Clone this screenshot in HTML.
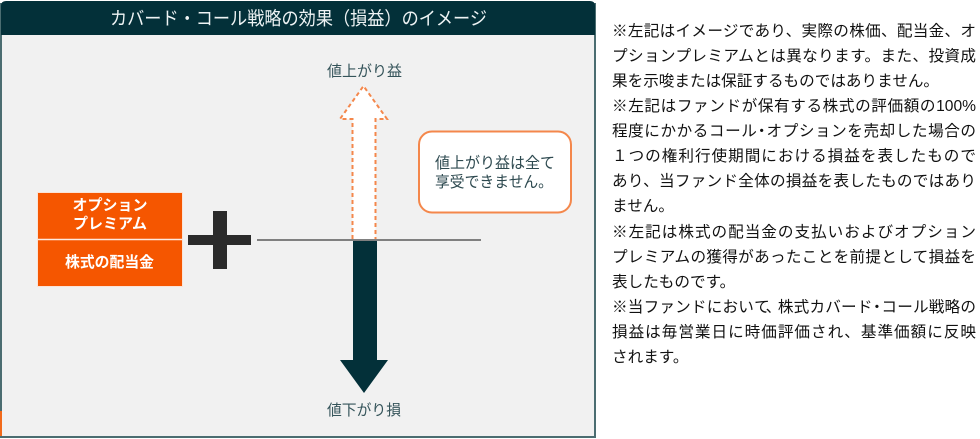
<!DOCTYPE html>
<html>
<head>
<meta charset="utf-8">
<style>
  html, body { margin:0; padding:0; background:#ffffff; }
  body { width:980px; height:439px; position:relative; overflow:hidden;
         font-family:"Liberation Sans","Noto Sans CJK JP",sans-serif; }
  #panel { position:absolute; left:0; top:0; }
  #notes { position:absolute; left:612px; top:18.5px; font-size:15.6px; line-height:25.14px;
           color:#111; width:364px;
           font-family:"Liberation Sans","Noto Sans CJK JP",sans-serif; }
  #notes div { white-space:nowrap; height:25.14px; }
  #notes div.j { text-align:justify; text-align-last:justify; text-justify:inter-character; }
  .n { letter-spacing:-3.5px; }
</style>
</head>
<body>
<svg id="panel" width="600" height="439" viewBox="0 0 600 439" xmlns="http://www.w3.org/2000/svg">
  <!-- panel body -->
  <rect x="1" y="4" width="594" height="433" fill="#f1f1f1" stroke="#4b6d71" stroke-width="2"/>
  <!-- header -->
  <path d="M1,35 L1,6 Q1,1 6,1 L590,1 Q595,1 595,6 L595,35 Z" fill="#033039"/>
  <text x="110" y="25" font-size="18.5" fill="#eef3f4" textLength="377" lengthAdjust="spacingAndGlyphs"
        font-family="Liberation Sans, Noto Sans CJK JP, sans-serif">カバード・コール戦略の効果（損益）のイメージ</text>
  <!-- small orange artifact left bottom -->
  <rect x="0" y="411" width="2" height="25" fill="#f26a1b"/>

  <!-- up label -->
  <text x="327" y="76" font-size="15" fill="#35545a" textLength="75" lengthAdjust="spacingAndGlyphs"
        font-family="Liberation Sans, Noto Sans CJK JP, sans-serif">値上がり益</text>

  <!-- up dashed arrow -->
  <path d="M352.5,239 L352.5,119 L340,119 L363.5,86 L387,119 L375.5,119 L375.5,239"
        fill="#ffffff" stroke="#f4874b" stroke-width="2" stroke-dasharray="4,3"/>

  <!-- horizontal axis -->
  <line x1="257" y1="240" x2="481" y2="240" stroke="#5a5a5a" stroke-width="1.6"/>

  <!-- down arrow -->
  <path d="M353,241 L377,241 L377,360 L388,360 L364,393 L340,360 L353,360 Z" fill="#033039"/>

  <!-- down label -->
  <text x="327" y="415" font-size="15" fill="#35545a" textLength="74" lengthAdjust="spacingAndGlyphs"
        font-family="Liberation Sans, Noto Sans CJK JP, sans-serif">値下がり損</text>

  <!-- callout -->
  <rect x="419" y="131.5" width="152" height="81" rx="13" ry="13" fill="#ffffff" stroke="#f4874b" stroke-width="2"/>
  <text x="435" y="168" font-size="15.5" fill="#2e4a50" textLength="120" lengthAdjust="spacingAndGlyphs"
        font-family="Liberation Sans, Noto Sans CJK JP, sans-serif">値上がり益は全て</text>
  <text x="435" y="187" font-size="15.5" fill="#2e4a50" textLength="118" lengthAdjust="spacingAndGlyphs"
        font-family="Liberation Sans, Noto Sans CJK JP, sans-serif">享受できません。</text>

  <!-- orange box -->
  <rect x="37.5" y="192.5" width="145" height="94" fill="#f55600" stroke="#fbe3d6" stroke-width="1"/>
  <line x1="38" y1="239.5" x2="182" y2="239.5" stroke="#fde9de" stroke-width="1.6"/>
  <text x="110" y="210" text-anchor="middle" font-size="15" font-weight="bold" fill="#ffffff"
        font-family="Liberation Sans, Noto Sans CJK JP, sans-serif">オプション</text>
  <text x="110" y="228.5" text-anchor="middle" font-size="15" font-weight="bold" fill="#ffffff"
        font-family="Liberation Sans, Noto Sans CJK JP, sans-serif">プレミアム</text>
  <text x="65" y="267" font-size="15" font-weight="bold" fill="#ffffff" textLength="89" lengthAdjust="spacingAndGlyphs"
        font-family="Liberation Sans, Noto Sans CJK JP, sans-serif">株式の配当金</text>

  <!-- plus sign -->
  <rect x="188" y="235" width="63" height="10" fill="#2b2b2b"/>
  <rect x="213" y="211" width="14" height="58" fill="#2b2b2b"/>
</svg>

<div id="notes">
<div class="j">※左記はイメージであり、実際の株価、配当金、オ</div>
<div class="j">プションプレミアムとは異なります。また、投資成</div>
<div>果を示唆または保証するものではありません。</div>
<div class="j">※左記はファンドが保有する株式の評価額の100%</div>
<div class="j">程度にかかるコー<span class="n">ル・</span>オプションを売却した場合の</div>
<div class="j">１つの権利行使期間における損益を表したもので</div>
<div class="j">あり、当ファンド全体の損益を表したものではあり</div>
<div>ません。</div>
<div class="j">※左記は株式の配当金の支払いおよびオプション</div>
<div class="j">プレミアムの獲得があったことを前提として損益を</div>
<div>表したものです。</div>
<div class="j">※当ファンドにおい<span class="n">て、</span>株式カバー<span class="n">ド・</span>コール戦略の</div>
<div class="j">損益は毎営業日に時価評価され、基準価額に反映</div>
<div>されます。</div>
</div>
</body>
</html>
